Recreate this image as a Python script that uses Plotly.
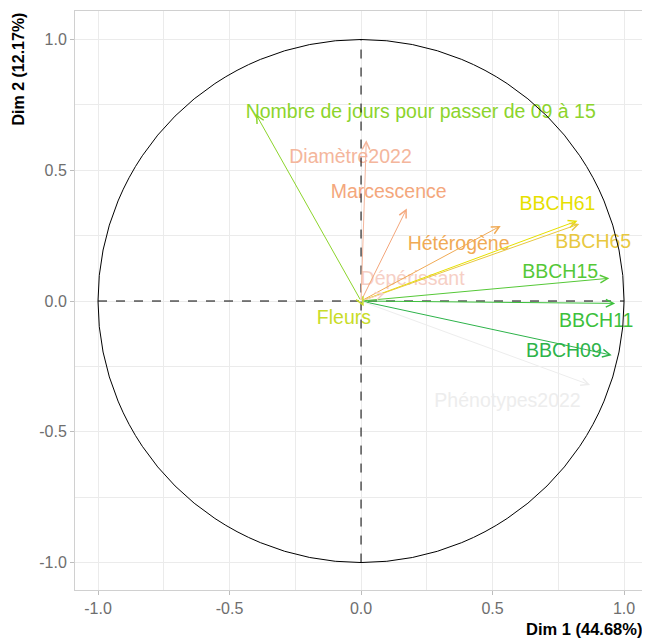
import plotly.graph_objects as go

# ---- data (PCA variable coordinates) ----
variables = ["Nombre de jours pour passer de 09 à 15", "Diamètre2022", "Marcescence",
             "Hétérogène", "BBCH61", "BBCH65", "BBCH15", "BBCH11", "BBCH09",
             "Phénotypes2022", "Dépérissant", "Fleurs"]
dim1 = [-0.400, 0.020, 0.174, 0.531, 0.823, 0.830, 0.944, 0.966, 0.953, 0.871, 0.090, 0.010]
dim2 = [0.715, 0.615, 0.354, 0.287, 0.307, 0.295, 0.087, -0.009, -0.207, -0.321, 0.030, -0.020]
colors = ["#8CD42C", "#F4B69C", "#F4A77C", "#F0AA55", "#E6E000", "#E8C840",
          "#55C837", "#3CC03C", "#2DB34A", "#EDEDED", "#F6CFC5", "#C8DC28"]
# label offsets from arrow tips (repelled labels)
label_dx = [0.627, -0.060, -0.069, -0.160, -0.076, 0.053, -0.187, -0.072, -0.182, -0.314, 0.106, -0.075]
label_dy = [0.003, -0.068, 0.059, -0.073, 0.060, -0.074, 0.019, -0.070, 0.013, -0.064, 0.050, -0.050]

tick_vals = [-1.0, -0.5, 0.0, 0.5, 1.0]
tick_text = ["-1.0", "-0.5", "0.0", "0.5", "1.0"]
minor_vals = [-0.75, -0.25, 0.25, 0.75]
xtitle = "Dim 1 (44.68%)"
ytitle = "Dim 2 (12.17%)"

FONT = "Liberation Sans, Arial, sans-serif"

fig = go.Figure()

# correlation circle and dashed axes segments
fig.add_shape(type="circle", xref="x", yref="y", x0=-1, y0=-1, x1=1, y1=1,
              line=dict(color="black", width=1), layer="above")
fig.add_shape(type="line", xref="x", yref="y", x0=-1, y0=0, x1=1, y1=0,
              line=dict(color="black", width=1, dash="dash"), layer="above")
fig.add_shape(type="line", xref="x", yref="y", x0=0, y0=-1, x1=0, y1=1,
              line=dict(color="black", width=1, dash="dash"), layer="above")

# arrows
for v, x, y, c in zip(variables, dim1, dim2, colors):
    fig.add_annotation(x=x, y=y, ax=0, ay=0, xref="x", yref="y", axref="x", ayref="y",
                       showarrow=True, arrowhead=5, arrowsize=1.5, arrowwidth=1,
                       arrowcolor=c, standoff=0, startstandoff=0, text="")

# labels
lx = [x + dx for x, dx in zip(dim1, label_dx)]
ly = [y + dy for y, dy in zip(dim2, label_dy)]
fig.add_trace(go.Scatter(x=lx, y=ly, mode="text", text=variables,
                         textposition="middle center",
                         textfont=dict(family=FONT, size=19.5, color=colors),
                         hoverinfo="skip", showlegend=False))

axis_common = dict(
    tickvals=tick_vals, ticktext=tick_text, showgrid=True, gridcolor="#EBEBEB",
    gridwidth=1, zeroline=False, showline=True, mirror=True, linecolor="#D0D0D0",
    linewidth=1, ticks="outside", ticklen=4, tickcolor="#BDBDBD",
    tickfont=dict(family=FONT, size=16, color="#6E6E6E"),
    minor=dict(tickvals=minor_vals, showgrid=True, gridcolor="#EBEBEB", gridwidth=1),
)
fig.update_xaxes(range=[-1.0875, 1.091], **axis_common)
fig.update_yaxes(range=[-1.105, 1.109], **axis_common)

fig.add_annotation(text=xtitle, xref="paper", yref="paper", x=1.0, y=0, yshift=-28,
                   xshift=-4, xanchor="right", yanchor="top", showarrow=False,
                   font=dict(family=FONT, size=16.5, color="black", weight="bold"))
fig.add_annotation(text=ytitle, xref="paper", yref="paper", x=0, y=1.0, xshift=-57,
                   xanchor="center", yanchor="top", textangle=-90, showarrow=False,
                   font=dict(family=FONT, size=16, color="black", weight="bold"))

# page body has an 8px default margin; size the figure to fill the 650x640 window
fig.update_layout(width=642, height=632, margin=dict(l=67, r=2, t=3, b=50),
                  plot_bgcolor="white", paper_bgcolor="white", showlegend=False)

fig.write_html("out.html")
